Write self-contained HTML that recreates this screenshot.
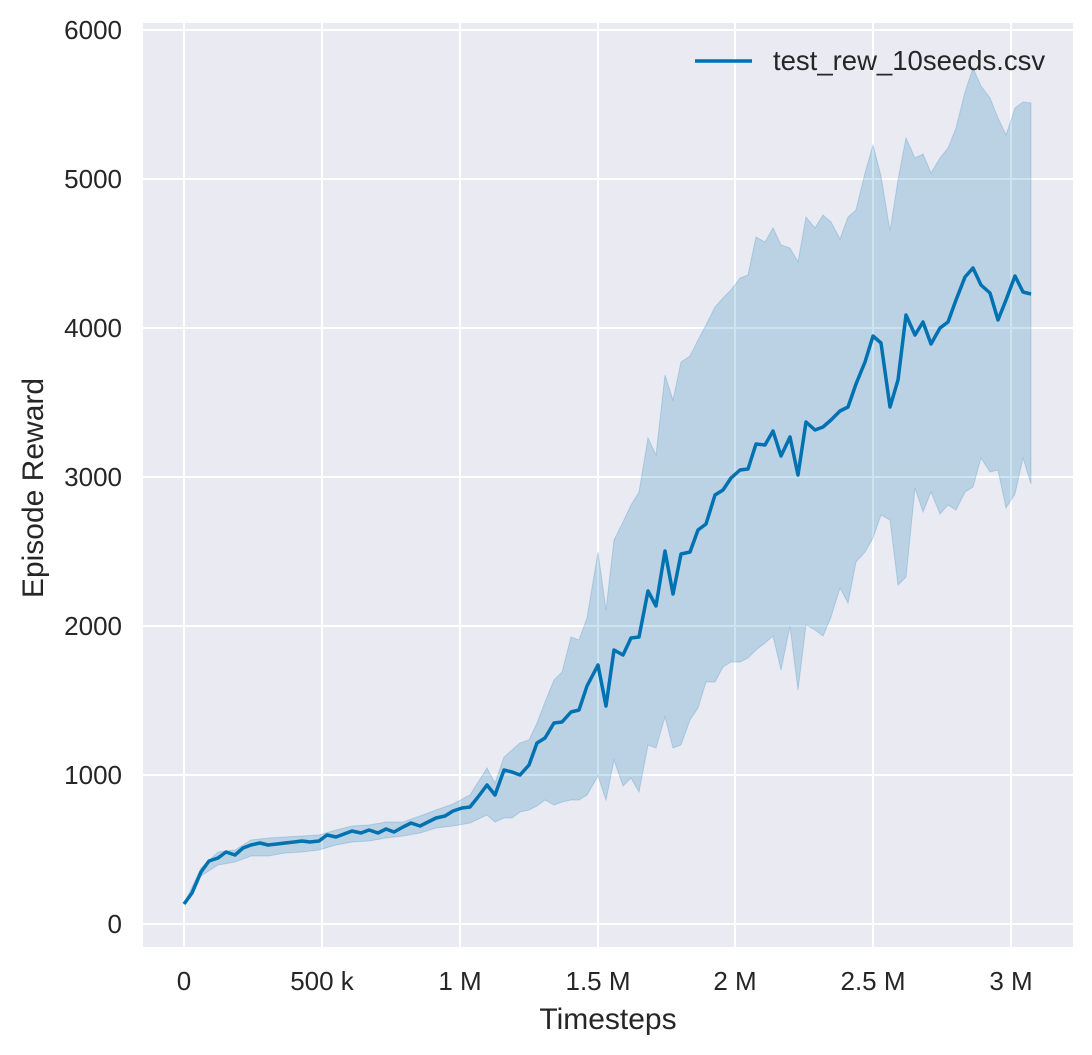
<!DOCTYPE html>
<html><head><style>body{margin:0;background:#fff}svg{display:block}text{font-family:"Liberation Sans",sans-serif;fill:#262626}</style></head><body>
<svg width="1092" height="1055" xmlns="http://www.w3.org/2000/svg">
<rect x="143" y="23" width="930" height="924" fill="#eaeaf2"/>
<g stroke="#fff" stroke-width="2">
<line x1="184" y1="23" x2="184" y2="947"/><line x1="322" y1="23" x2="322" y2="947"/><line x1="460" y1="23" x2="460" y2="947"/><line x1="598" y1="23" x2="598" y2="947"/><line x1="735" y1="23" x2="735" y2="947"/><line x1="873" y1="23" x2="873" y2="947"/><line x1="1011" y1="23" x2="1011" y2="947"/>
<line x1="143" y1="924" x2="1073" y2="924"/><line x1="143" y1="775" x2="1073" y2="775"/><line x1="143" y1="626" x2="1073" y2="626"/><line x1="143" y1="477" x2="1073" y2="477"/><line x1="143" y1="328" x2="1073" y2="328"/><line x1="143" y1="179" x2="1073" y2="179"/><line x1="143" y1="30" x2="1073" y2="30"/>
</g>
<polygon fill="#0072b2" fill-opacity="0.2" stroke="#0072b2" stroke-opacity="0.2" points="184,904 201,868 218,852 235,850 251,840 268,838 285,837 302,836 319,835 336,830 352,826 369,825 386,822 403,822 420,816 436,810 453,804 470,795 487,768 495,783 504,757 512,750 520,743 529,740 537,723 545,702 554,680 562,672 571,637 579,640 587,618 598,552 606,610 614,540 623,522 631,505 639,492 648,438 656,455 665,375 673,400 681,362 690,356 698,340 706,325 715,307 723,298 731,290 740,278 748,275 756,237 765,242 773,228 781,245 790,248 798,262 806,217 815,228 823,215 831,222 840,239 848,217 856,210 865,173 873,145 881,176 890,231 898,180 906,138 915,158 923,154 931,173 940,158 948,148 956,128 965,92 973,68 981,86 990,98 998,118 1006,135 1015,108 1023,102 1031,103 1031,484 1023,458 1015,494 1006,508 998,470 990,472 981,458 973,487 965,492 956,510 948,505 940,514 931,492 923,512 915,488 906,577 898,585 890,520 881,515 873,538 865,552 856,562 848,603 840,588 831,617 823,636 815,630 806,625 798,690 790,626 781,670 773,636 765,643 756,650 748,658 740,662 731,662 723,667 715,682 706,682 698,708 690,720 681,745 673,748 665,717 656,748 648,745 639,792 631,778 623,786 614,760 606,800 598,776 587,795 579,800 571,800 562,802 554,805 545,800 537,806 529,810 520,812 512,818 504,818 495,822 487,815 470,823 453,826 436,828 420,833 403,836 386,838 369,841 352,842 336,845 319,850 302,852 285,853 268,856 251,856 235,862 218,865 201,876"/>
<polyline fill="none" stroke="#0072b2" stroke-width="3.5" stroke-linejoin="round" points="184,904 192,893 201,872 209,861 218,858 226,852 235,855 243,848 251,845 260,843 268,845 277,844 285,843 294,842 302,841 310,842 319,841 327,835 336,837 344,834 352,831 361,833 369,830 378,833 386,829 394,832 403,827 411,823 420,826 428,822 436,818 445,816 453,811 462,808 470,807 478,797 487,785 495,795 504,770 512,772 520,775 529,765 537,743 545,738 554,723 562,722 571,712 579,710 587,686 598,665 606,706 614,650 623,655 631,638 639,637 648,591 656,606 665,551 673,594 681,554 690,552 698,530 706,524 715,495 723,490 731,478 740,470 748,469 756,444 765,445 773,431 781,456 790,437 798,475 806,422 815,430 823,427 831,420 840,411 848,407 856,384 865,362 873,336 881,343 890,407 898,380 906,315 915,335 923,322 931,344 940,328 948,322 956,300 965,277 973,268 981,285 990,293 998,320 1006,300 1015,276 1023,292 1031,294"/>
<line x1="695" y1="61" x2="752" y2="61" stroke="#0072b2" stroke-width="3.5"/>
<text x="773" y="70" font-size="27.5">test_rew_10seeds.csv</text>
<g font-size="26" text-anchor="middle">
<text x="184" y="990">0</text><text x="322" y="990">500 k</text><text x="460" y="990">1 M</text><text x="598" y="990">1.5 M</text><text x="735" y="990">2 M</text><text x="873" y="990">2.5 M</text><text x="1011" y="990">3 M</text>
</g>
<g font-size="26" text-anchor="end">
<text x="122" y="933">0</text><text x="122" y="784">1000</text><text x="122" y="635">2000</text><text x="122" y="486">3000</text><text x="122" y="337">4000</text><text x="122" y="188">5000</text><text x="122" y="39">6000</text>
</g>
<text x="608" y="1029" font-size="30" text-anchor="middle">Timesteps</text>
<text transform="translate(43,488) rotate(-90)" font-size="30" text-anchor="middle">Episode Reward</text>
</svg>
</body></html>
